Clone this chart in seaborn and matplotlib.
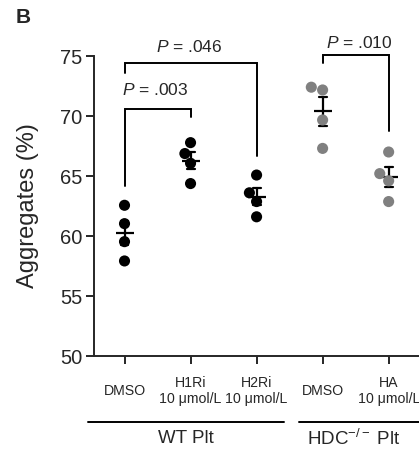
import pandas as pd
import matplotlib
matplotlib.use("Agg")
import matplotlib.pyplot as plt
import matplotlib.transforms as mtransforms
import seaborn as sns

GROUPS = ["WT DMSO", "WT H1Ri", "WT H2Ri", "HDC DMSO", "HDC HA"]
TICK_LABELS = ["DMSO", "H1Ri\n10 μmol/L", "H2Ri\n10 μmol/L", "DMSO", "HA\n10 μmol/L"]

wt_dmso = [62.56, 61.03, 59.53, 57.92]
wt_h1ri = [67.78, 66.87, 66.06, 64.37]
wt_h2ri = [65.08, 63.60, 62.87, 61.60]
hdc_dmso = [72.17, 72.40, 69.67, 67.30]
hdc_ha = [67.00, 65.20, 64.60, 62.87]

POINT_COLORS = ["black", "black", "black", "#808080", "#808080"]

# (left x, right x, bar top, left leg end, right leg end, label, label x, label y)
BRACKETS = [
    (0, 1, 70.6, 64.2, 69.95, "$P$ = .003", 0.46, 72.2),
    (0, 2, 74.4, 73.6, 66.7, "$P$ = .046", 0.98, 75.75),
    (3, 4, 75.05, 74.45, 68.75, "$P$ = .010", 3.55, 76.05),
]


def build_frame():
    rows = []
    for name, vals in zip(GROUPS, [wt_dmso, wt_h1ri, wt_h2ri, hdc_dmso, hdc_ha]):
        for v in vals:
            rows.append({"group": name, "value": v})
    return pd.DataFrame(rows)


def main():
    sns.set_style("ticks")
    plt.rcParams["font.family"] = ["Liberation Sans", "DejaVu Sans"]
    plt.rcParams["mathtext.fontset"] = "custom"
    plt.rcParams["mathtext.rm"] = "Liberation Sans"
    plt.rcParams["mathtext.it"] = "Liberation Sans:italic"
    plt.rcParams["mathtext.bf"] = "Liberation Sans:bold"

    df = build_frame()

    fig = plt.figure(figsize=(4.19, 4.53), dpi=100)
    ax = fig.add_axes([94 / 419, 1 - 356 / 453, 327 / 419, 300 / 453])

    sns.swarmplot(data=df, x="group", y="value", order=GROUPS, hue="group",
                  palette=POINT_COLORS, size=8, legend=False, ax=ax)
    sns.pointplot(data=df, x="group", y="value", order=GROUPS, errorbar="se",
                  capsize=0.12, color="black", marker="_", markersize=12.5,
                  markeredgewidth=1.6, linestyle="none",
                  err_kws={"linewidth": 1.6}, ax=ax)

    ax.set_xlim(-0.462, 4.49)
    ax.set_ylim(50, 75)
    ax.set_yticks([50, 55, 60, 65, 70, 75])
    ax.set_xticks(range(len(GROUPS)))
    ax.set_xticklabels(TICK_LABELS, fontsize=10.2, linespacing=1.15)
    for lab in ax.get_xticklabels():
        lab.set_va("center")
    ax.tick_params(axis="x", length=5.5, width=1.4, pad=19.5)
    ax.tick_params(axis="y", length=5.5, width=1.4, pad=3, labelsize=14.5)
    ax.set_xlabel("")
    ax.set_ylabel("Aggregates (%)", fontsize=17, labelpad=15)
    sns.despine(ax=ax)
    for side in ["left", "bottom"]:
        ax.spines[side].set_linewidth(1.4)

    # significance brackets
    for x1, x2, top, yl, yr, label, tx, ty in BRACKETS:
        ax.plot([x1, x1, x2, x2], [yl, top, top, yr], color="black", lw=1.4,
                clip_on=False, solid_joinstyle="miter")
        ax.text(tx, ty, label, ha="center", va="center", fontsize=12.5)

    # genotype group lines under the axis
    trans = mtransforms.blended_transform_factory(ax.transData, ax.transAxes)
    ax.plot([-0.55, 2.42], [-0.219, -0.219], color="black", lw=1.4,
            transform=trans, clip_on=False)
    ax.plot([2.64, 4.6], [-0.219, -0.219], color="black", lw=1.4,
            transform=trans, clip_on=False)
    ax.text(0.935, -0.275, "WT Plt", transform=trans, ha="center",
            va="center", fontsize=13.5)
    ax.text(3.47, -0.275, "HDC$^{-/-}$ Plt", transform=trans, ha="center",
            va="center", fontsize=13.5)

    fig.text(16 / 419, 1 - 23 / 453, "B", fontsize=15, fontweight="bold",
             ha="left", va="baseline")

    fig.savefig("out.png", dpi=100)


if __name__ == "__main__":
    main()
